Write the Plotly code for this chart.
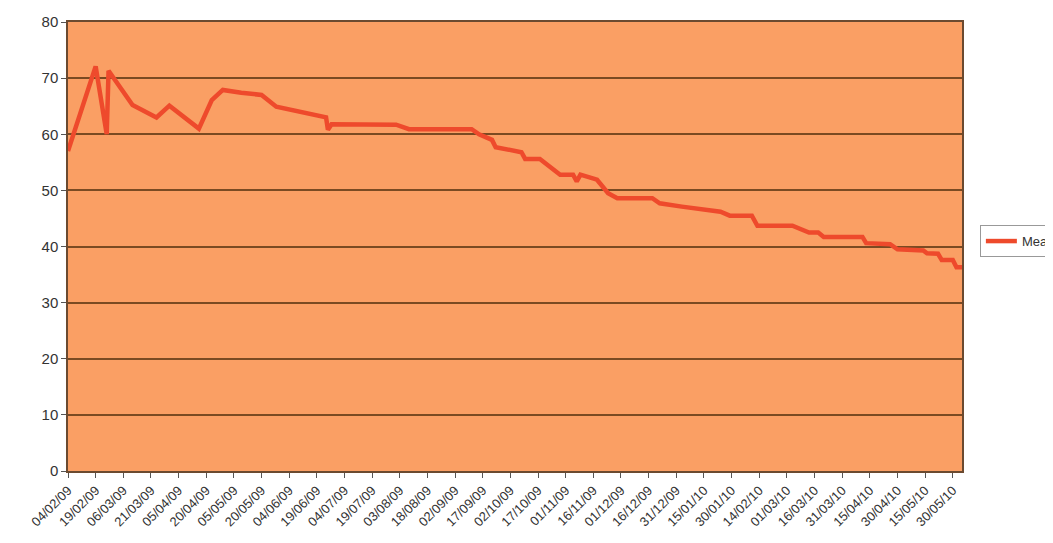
import plotly.graph_objects as go

dates = [
    "2009-02-04", "2009-02-19", "2009-02-25", "2009-02-26", "2009-03-11", "2009-03-24",
    "2009-03-31", "2009-04-16", "2009-04-23", "2009-04-29", "2009-05-09", "2009-05-20",
    "2009-05-28", "2009-06-24", "2009-06-25", "2009-06-27", "2009-08-01", "2009-08-08",
    "2009-09-11", "2009-09-15", "2009-09-22", "2009-09-24", "2009-10-08", "2009-10-10",
    "2009-10-18", "2009-10-29", "2009-11-05", "2009-11-07", "2009-11-09", "2009-11-18",
    "2009-11-24", "2009-11-29", "2009-12-18", "2009-12-22", "2010-01-03", "2010-01-24",
    "2010-01-29", "2010-02-10", "2010-02-13", "2010-03-04", "2010-03-13", "2010-03-18",
    "2010-03-21", "2010-04-11", "2010-04-13", "2010-04-26", "2010-04-30", "2010-05-14",
    "2010-05-16", "2010-05-22", "2010-05-24", "2010-05-30", "2010-06-01", "2010-06-04",
]
values = [
    57.0, 72.1, 60.0, 71.3, 65.2, 63.0,
    65.1, 61.0, 66.1, 67.9, 67.4, 67.0,
    64.9, 63.0, 60.8, 61.8, 61.7, 60.9,
    60.9, 60.0, 59.0, 57.7, 56.8, 55.6,
    55.6, 52.8, 52.8, 51.6, 52.8, 51.9,
    49.5, 48.6, 48.6, 47.7, 47.1, 46.2,
    45.5, 45.5, 43.7, 43.7, 42.5, 42.5,
    41.7, 41.7, 40.6, 40.4, 39.5, 39.3,
    38.8, 38.7, 37.6, 37.6, 36.3, 36.3,
]
series_name = "Mean"
x_start = "2009-02-04"
x_end = "2010-06-04"
y_ticks = [0, 10, 20, 30, 40, 50, 60, 70, 80]

fig = go.Figure()
fig.add_trace(go.Scatter(
    x=dates, y=values, mode="lines", name=series_name,
    line=dict(color="#EE4A2C", width=4.5),
))

fig.update_layout(
    width=1053, height=543,
    paper_bgcolor="white",
    plot_bgcolor="#FA9F64",
    margin=dict(l=60, r=99, t=14, b=80, autoexpand=False),
    font=dict(family="Liberation Sans, Arial, sans-serif", color="#333333"),
    showlegend=True,
    legend=dict(
        x=1.02, y=0.512, xanchor="left", yanchor="middle",
        bgcolor="white", bordercolor="#999999", borderwidth=1,
        itemwidth=31,
        font=dict(size=13, color="#333333"),
    ),
)
fig.update_xaxes(
    type="date",
    range=[x_start, x_end],
    tick0=x_start, dtick=15 * 86400000,
    tickformat="%d/%m/%y",
    tickangle=-45,
    tickfont=dict(size=13, color="#333333"),
    ticks="outside", ticklen=5, tickcolor="#555555",
    showgrid=False,
    showline=True, linecolor="#6B4A30", linewidth=1.5, mirror=True,
)
fig.update_yaxes(
    range=[0, 80],
    tickvals=y_ticks,
    tickfont=dict(size=15, color="#333333"),
    ticks="outside", ticklen=5, tickcolor="#555555",
    showgrid=True, gridcolor="#7A4A22", gridwidth=1.5,
    showline=True, linecolor="#6B4A30", linewidth=1.5, mirror=True,
    zeroline=False,
)

fig.write_html("out.html")
